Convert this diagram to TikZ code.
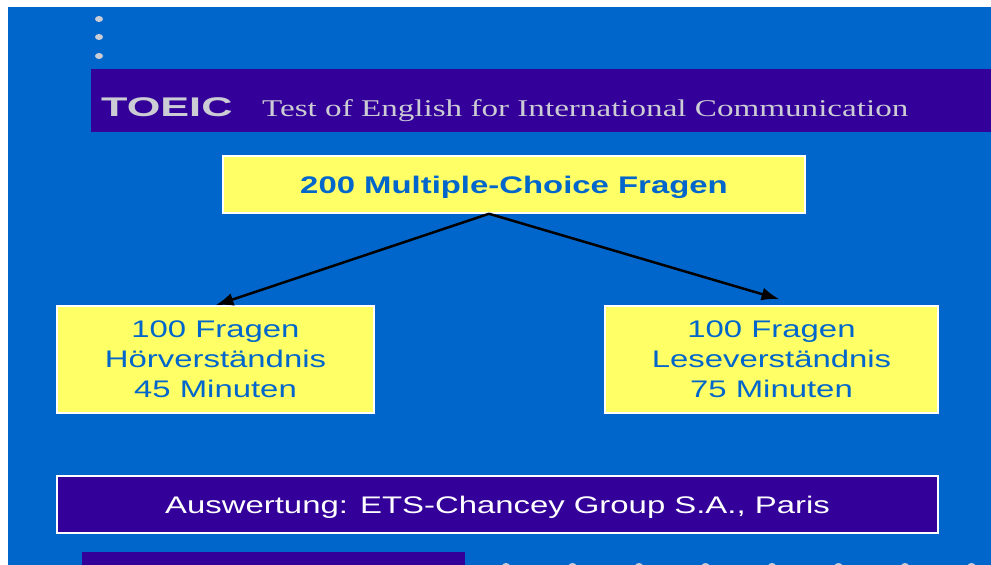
\documentclass[tikz,border=0pt]{standalone}
\usepackage{fontspec}
\newfontfamily\slidesans[FakeStretch=1.37]{Liberation Sans}
\newfontfamily\slidelogo[FakeStretch=1.6]{Liberation Sans}
\newfontfamily\slideserif[FakeStretch=1.38]{Liberation Serif}
\usepackage{tikz}
\usetikzlibrary{arrows.meta}
\definecolor{slideblue}{HTML}{0066CC}
\definecolor{slidepurple}{HTML}{330099}
\definecolor{slideyellow}{HTML}{FFFF66}
\definecolor{slidegray}{HTML}{CCCCD4}
\tikzset{
ybox/.style={draw=white, line width=1.5pt, fill=slideyellow, text=slideblue, align=center, inner sep=0pt, text depth=0pt, font=\slidesans\fontsize{24}{30}\selectfont},
pbox/.style={draw=white, line width=1.5pt, fill=slidepurple, text=white, inner sep=0pt, text depth=0pt, font=\slidesans\fontsize{24}{30}\selectfont},
pfeil/.style={-{Latex[length=18pt,width=13pt]}, line width=2.5pt},
punkt/.style={fill=slidegray}
}

\begin{document}
\begin{tikzpicture}[x=1pt,y=-1pt]
\useasboundingbox (0,0) rectangle (991,565);
\fill[slideblue] (8,7) rectangle (991,565);
\foreach \y in {19,37,56}
  \fill[punkt] (99,\y) ellipse (4pt and 3pt);
\foreach \x in {506,572.5,...,972}
  \fill[punkt] (\x,566) ellipse (4pt and 3pt);
\fill[slidepurple] (91,69) rectangle (991,132);
\fill[slidepurple] (82,552) rectangle (465,565);
\node[anchor=base west, text=slidegray, inner sep=0pt, font=\slidelogo\bfseries\fontsize{27}{27}\selectfont] (toeic) at (101,116) {TOEIC};
\node[anchor=base west, text=slidegray, inner sep=0pt, font=\slideserif\fontsize{24}{24}\selectfont] (titel) at (262,116) {Test of English for International Communication};
\node[ybox, font=\slidesans\bfseries\fontsize{24}{30}\selectfont, minimum width=582pt, minimum height=57pt] (fragen) at (514,184.5) {200 Multiple-Choice Fragen};
\node[ybox, minimum width=317pt, minimum height=107pt] (hoeren) at (215.5,359.5) {100 Fragen\\Hörverständnis\\45 Minuten};
\node[ybox, minimum width=333pt, minimum height=107pt] (lesen) at (771.5,359.5) {100 Fragen\\Leseverständnis\\75 Minuten};
\node[pbox, minimum width=881pt, minimum height=57pt] (auswertung) at (497.5,504.5) {Auswertung: ETS-Chancey Group S.A., Paris};
\draw[pfeil] ([xshift=-25pt]fragen.south) -- (hoeren.north);
\draw[pfeil] ([xshift=-25pt]fragen.south) -- ([xshift=8pt,yshift=6pt]lesen.north);
\end{tikzpicture}
\end{document}
